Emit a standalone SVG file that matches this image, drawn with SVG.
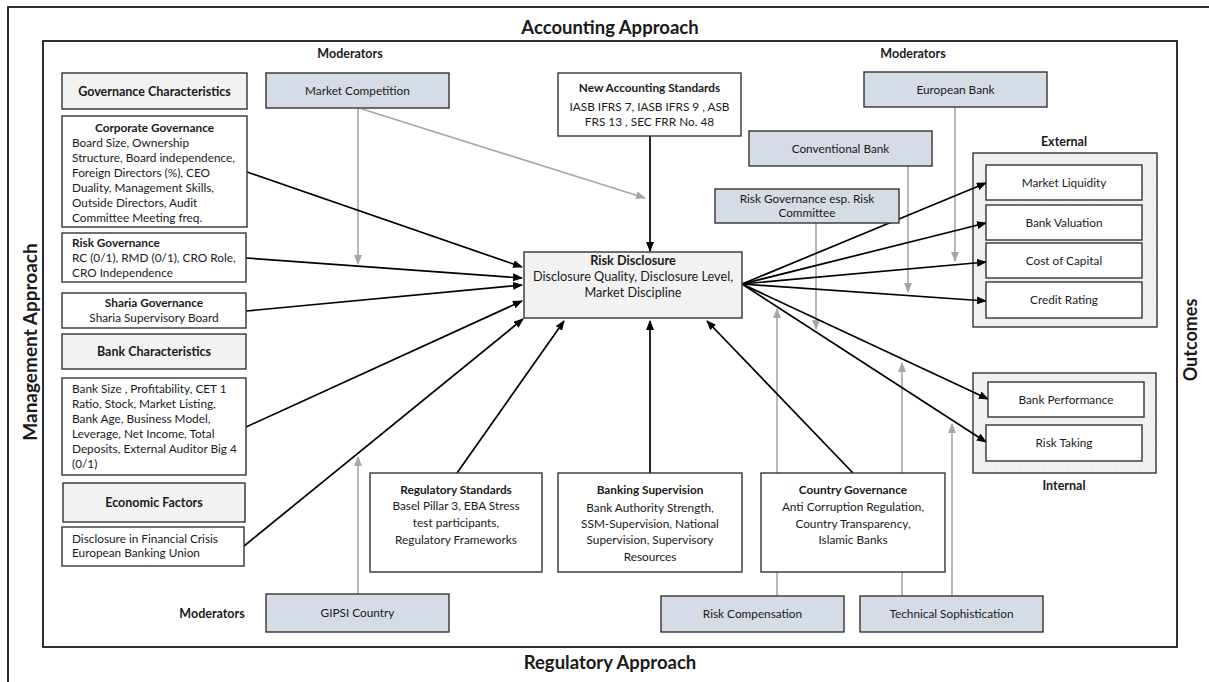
<svg xmlns="http://www.w3.org/2000/svg" width="1209" height="682" viewBox="0 0 1209 682">
  <style>
    text { font-family: Lato, "Open Sans", "Liberation Sans", sans-serif; fill: #1a1a1a; }
    .t { font-size: 11.8px; }
    .c { text-anchor: middle; }
    .b { font-weight: bold; }
    .h { font-size: 18.5px; font-weight: bold; text-anchor: middle; }
    .v { font-size: 19px; font-weight: bold; text-anchor: middle; }
    .m { font-size: 12.5px; font-weight: bold; text-anchor: middle; }
    .box { fill: #ffffff; stroke: #333333; stroke-width: 1.4; }
    .hdr { fill: #f2f2f2; stroke: #333333; stroke-width: 1.4; }
    .mod { fill: #d6dce5; stroke: #333333; stroke-width: 1.4; }
    .grp { fill: url(#dots); stroke: #333333; stroke-width: 1.4; }
    .frame { fill: none; stroke: #1a1a1a; stroke-width: 1.8; }
    .k { stroke: #000000; stroke-width: 1.7; fill: none; marker-end: url(#ak); }
    .ga { stroke: #a6a6a6; stroke-width: 1.6; fill: none; marker-end: url(#ag); }
  </style>
  <defs>
    <marker id="ak" markerUnits="userSpaceOnUse" markerWidth="10" markerHeight="8" refX="9" refY="4" orient="auto">
      <path d="M0,0 L10,4 L0,8 z" fill="#000000"/>
    </marker>
    <marker id="ag" markerUnits="userSpaceOnUse" markerWidth="10" markerHeight="8" refX="9" refY="4" orient="auto">
      <path d="M0,0 L10,4 L0,8 z" fill="#a6a6a6"/>
    </marker>
    <pattern id="dots" width="6" height="6" patternUnits="userSpaceOnUse">
      <rect width="6" height="6" fill="#f0f0f0"/>
      <circle cx="3" cy="3" r="0.6" fill="#ffffff"/>
    </pattern>
  </defs>

  <rect width="1209" height="682" fill="#ffffff"/>

  <!-- frames -->
  <g id="frames">
    <rect class="frame" x="8" y="7" width="1220" height="700"/>
    <rect class="frame" x="43" y="41" width="1134" height="606"/>
    <text class="h" x="610" y="34">Accounting  Approach</text>
    <text class="h" x="610" y="669">Regulatory Approach</text>
    <text class="v" transform="translate(37,342) rotate(-90)">Management Approach</text>
    <text class="v" transform="translate(1197,340) rotate(-90)" style="font-size:18px">Outcomes</text>
    <text class="m" x="350" y="58">Moderators</text>
    <text class="m" x="913" y="58">Moderators</text>
    <text class="m" x="212" y="618">Moderators</text>
  </g>

  <!-- outcome groups -->
  <g id="external">
    <rect class="grp" x="973" y="153" width="184" height="174"/>
    <text class="m" x="1064" y="146">External</text>
  </g>
  <g id="internal">
    <rect class="grp" x="973" y="373" width="183" height="100"/>
    <text class="m" x="1064" y="490">Internal</text>
  </g>

  <!-- connectors -->
  <g id="connectors">
    <!-- moderator links -->
    <line class="ga" x1="358" y1="108" x2="358" y2="264"/>
    <line class="ga" x1="362" y1="109" x2="645" y2="198"/>
    <line class="ga" x1="358" y1="594" x2="358" y2="457"/>
    <line class="ga" x1="955" y1="107" x2="955" y2="261"/>
    <line class="ga" x1="908" y1="166" x2="908" y2="292"/>
    <line class="ga" x1="816" y1="223" x2="816" y2="329"/>
    <line class="ga" x1="777" y1="596" x2="777" y2="309"/>
    <line class="ga" x1="902" y1="596" x2="902" y2="363"/>
    <line class="ga" x1="952" y1="596" x2="952" y2="424"/>

    <!-- determinants into risk disclosure -->
    <line class="k" x1="247" y1="172" x2="522" y2="267"/>
    <line class="k" x1="246" y1="258" x2="522" y2="278"/>
    <line class="k" x1="246" y1="311" x2="522" y2="285"/>
    <line class="k" x1="246" y1="427" x2="522" y2="301"/>
    <line class="k" x1="244" y1="546" x2="523" y2="319"/>
    <line class="k" x1="457" y1="473" x2="564" y2="321"/>
    <line class="k" x1="650" y1="473" x2="650" y2="321"/>
    <line class="k" x1="853" y1="473" x2="707" y2="321"/>
    <line class="k" x1="650" y1="136" x2="650" y2="251"/>

    <!-- risk disclosure to outcomes -->
    <line class="k" x1="742" y1="284" x2="986" y2="183"/>
    <line class="k" x1="742" y1="284" x2="986" y2="223"/>
    <line class="k" x1="742" y1="284" x2="986" y2="262"/>
    <line class="k" x1="742" y1="284" x2="986" y2="301"/>
    <line class="k" x1="742" y1="284" x2="988" y2="399"/>
    <line class="k" x1="742" y1="284" x2="986" y2="442"/>
  </g>

  <!-- left column -->
  <g id="governance-characteristics">
    <rect class="hdr" x="62" y="73" width="185" height="36"/>
    <text class="t b c" x="154.5" y="95.5" style="font-size:12.5px">Governance Characteristics</text>
  </g>
  <g id="corporate-governance">
    <rect class="box" x="62" y="116" width="185" height="111"/>
    <text class="t b c" x="154.5" y="132">Corporate Governance</text>
    <text class="t" x="72" y="147">Board Size, Ownership</text>
    <text class="t" x="72" y="162">Structure, Board independence,</text>
    <text class="t" x="72" y="177">Foreign Directors (%), CEO</text>
    <text class="t" x="72" y="192">Duality, Management Skills,</text>
    <text class="t" x="72" y="207">Outside Directors, Audit</text>
    <text class="t" x="72" y="222">Committee Meeting freq.</text>
  </g>
  <g id="risk-governance">
    <rect class="box" x="62" y="233" width="184" height="49"/>
    <text class="t b" x="72" y="247">Risk Governance</text>
    <text class="t" x="72" y="262">RC (0/1), RMD (0/1), CRO Role,</text>
    <text class="t" x="72" y="277">CRO Independence</text>
  </g>
  <g id="sharia-governance">
    <rect class="box" x="62" y="293" width="184" height="35"/>
    <text class="t b c" x="154" y="307">Sharia  Governance</text>
    <text class="t c" x="154" y="322">Sharia Supervisory Board</text>
  </g>
  <g id="bank-characteristics">
    <rect class="hdr" x="62" y="334" width="184" height="35"/>
    <text class="t b c" x="154" y="355.5" style="font-size:12.5px">Bank Characteristics</text>
  </g>
  <g id="bank-variables">
    <rect class="box" x="62" y="378" width="184" height="97"/>
    <text class="t" x="72" y="393">Bank Size , Profitability, CET 1</text>
    <text class="t" x="72" y="408">Ratio, Stock, Market Listing,</text>
    <text class="t" x="72" y="423">Bank Age, Business Model,</text>
    <text class="t" x="72" y="438">Leverage, Net Income, Total</text>
    <text class="t" x="72" y="453">Deposits, External Auditor Big 4</text>
    <text class="t" x="72" y="468">(0/1)</text>
  </g>
  <g id="economic-factors">
    <rect class="hdr" x="63" y="483" width="182" height="39"/>
    <text class="t b c" x="154" y="507" style="font-size:12.5px">Economic Factors</text>
  </g>
  <g id="economic-variables">
    <rect class="box" x="62" y="527" width="182" height="39"/>
    <text class="t" x="72" y="543">Disclosure in Financial Crisis</text>
    <text class="t" x="72" y="557">European Banking Union</text>
  </g>

  <!-- moderators -->
  <g id="market-competition">
    <rect class="mod" x="266" y="73" width="183" height="35"/>
    <text class="t c" x="357.5" y="94.5">Market Competition</text>
  </g>
  <g id="gipsi-country">
    <rect class="mod" x="266" y="594" width="183" height="38"/>
    <text class="t c" x="357.5" y="617">GIPSI Country</text>
  </g>
  <g id="european-bank">
    <rect class="mod" x="864" y="72" width="183" height="35"/>
    <text class="t c" x="955.5" y="93.5">European Bank</text>
  </g>
  <g id="conventional-bank">
    <rect class="mod" x="749" y="131" width="183" height="35"/>
    <text class="t c" x="840.5" y="152.5">Conventional Bank</text>
  </g>
  <g id="risk-committee">
    <rect class="mod" x="715" y="189" width="184" height="34"/>
    <text class="t c" x="807" y="203">Risk Governance esp. Risk</text>
    <text class="t c" x="807" y="217">Committee</text>
  </g>
  <g id="risk-compensation">
    <rect class="mod" x="661" y="596" width="183" height="36"/>
    <text class="t c" x="752.5" y="618">Risk Compensation</text>
  </g>
  <g id="technical-sophistication">
    <rect class="mod" x="860" y="596" width="183" height="36"/>
    <text class="t c" x="951.5" y="618">Technical Sophistication</text>
  </g>

  <!-- centre -->
  <g id="new-accounting-standards">
    <rect class="box" x="558" y="73" width="183" height="63"/>
    <text class="t b c" x="649.5" y="92">New Accounting Standards</text>
    <text class="t c" x="649.5" y="111">IASB IFRS 7, IASB IFRS 9 , ASB</text>
    <text class="t c" x="649.5" y="126">FRS 13 , SEC FRR No. 48</text>
  </g>
  <g id="risk-disclosure">
    <rect class="hdr" x="524" y="252" width="218" height="66"/>
    <text class="t b c" x="633" y="265" style="font-size:12.7px">Risk Disclosure</text>
    <text class="t c" x="633" y="281" style="font-size:12.7px">Disclosure Quality, Disclosure Level,</text>
    <text class="t c" x="633" y="297" style="font-size:12.7px">Market Discipline</text>
  </g>

  <!-- bottom row -->
  <g id="regulatory-standards">
    <rect class="box" x="370" y="473" width="172" height="99"/>
    <text class="t b c" x="456" y="494">Regulatory Standards</text>
    <text class="t c" x="456" y="510">Basel Pillar 3, EBA Stress</text>
    <text class="t c" x="456" y="527">test participants,</text>
    <text class="t c" x="456" y="544">Regulatory Frameworks</text>
  </g>
  <g id="banking-supervision">
    <rect class="box" x="558" y="473" width="184" height="99"/>
    <text class="t b c" x="650" y="494">Banking Supervision</text>
    <text class="t c" x="650" y="512">Bank Authority Strength,</text>
    <text class="t c" x="650" y="528">SSM-Supervision, National</text>
    <text class="t c" x="650" y="544">Supervision, Supervisory</text>
    <text class="t c" x="650" y="561">Resources</text>
  </g>
  <g id="country-governance">
    <rect class="box" x="761" y="473" width="184" height="99"/>
    <text class="t b c" x="853" y="494">Country Governance</text>
    <text class="t c" x="853" y="511">Anti Corruption Regulation,</text>
    <text class="t c" x="853" y="528">Country Transparency,</text>
    <text class="t c" x="853" y="544">Islamic Banks</text>
  </g>

  <!-- outcomes -->
  <g id="market-liquidity">
    <rect class="box" x="986" y="165" width="156" height="35"/>
    <text class="t c" x="1064" y="186.5">Market Liquidity</text>
  </g>
  <g id="bank-valuation">
    <rect class="box" x="986" y="205" width="156" height="35"/>
    <text class="t c" x="1064" y="226.5">Bank Valuation</text>
  </g>
  <g id="cost-of-capital">
    <rect class="box" x="986" y="243" width="156" height="35"/>
    <text class="t c" x="1064" y="264.5">Cost of Capital</text>
  </g>
  <g id="credit-rating">
    <rect class="box" x="986" y="282" width="156" height="36"/>
    <text class="t c" x="1064" y="304">Credit Rating</text>
  </g>
  <g id="bank-performance">
    <rect class="box" x="988" y="382" width="156" height="35"/>
    <text class="t c" x="1066" y="403.5">Bank Performance</text>
  </g>
  <g id="risk-taking">
    <rect class="box" x="986" y="425" width="156" height="36"/>
    <text class="t c" x="1064" y="447">Risk Taking</text>
  </g>
</svg>
